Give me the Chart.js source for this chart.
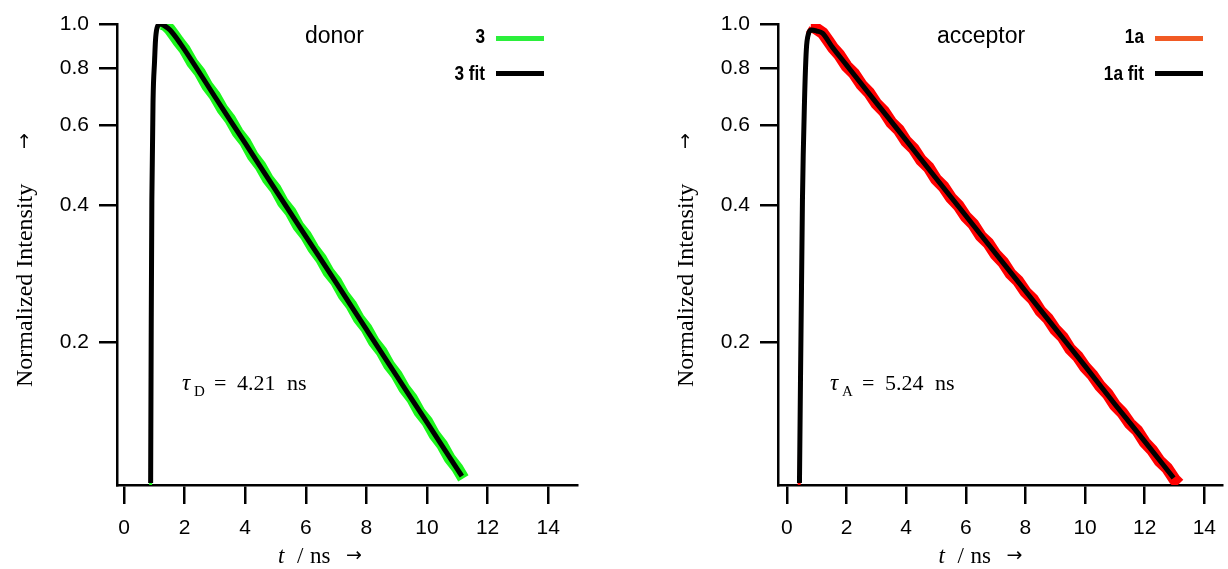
<!DOCTYPE html>
<html>
<head>
<meta charset="utf-8">
<script src="https://cdn.jsdelivr.net/npm/chart.js@4.4.1/dist/chart.umd.min.js"></script>
<style>
  body { margin: 0; background: #fff; width: 1228px; height: 569px; overflow: hidden; position: relative; }
  .panel { position: absolute; top: 0; height: 569px; }
</style>
</head>
<body>
<div class="panel" style="left:0;width:614px"><canvas id="donorChart" width="614" height="569"></canvas></div>
<div class="panel" style="left:661px;width:567px"><canvas id="acceptorChart" width="567" height="569"></canvas></div>
<script>
// axes
const xTicks = [0, 2, 4, 6, 8, 10, 12, 14];
const yTicks = [0.2, 0.4, 0.6, 0.8, 1.0];
const yTickLabels = ['0.2', '0.4', '0.6', '0.8', '1.0'];

// donor (3) - measured decay
const donorRawT = [0.86, 0.88, 0.90, 0.93, 0.96, 1.00, 1.05, 1.10, 1.20, 1.30, 1.40, 1.50, 1.65, 1.80,
  2.00, 2.25, 2.50, 2.75, 3.00, 3.25, 3.50, 3.75, 4.00, 4.25, 4.50, 4.75, 5.00, 5.25, 5.50, 5.75,
  6.00, 6.25, 6.50, 6.75, 7.00, 7.25, 7.50, 7.75, 8.00, 8.25, 8.50, 8.75, 9.00, 9.25, 9.50, 9.75,
  10.00, 10.25, 10.50, 10.75, 11.00, 11.20];
const donorRawI = [0.097, 0.15, 0.30, 0.50, 0.70, 0.84, 0.93, 0.975, 1.0, 1.0, 0.99, 0.975, 0.945, 0.915,
  0.880, 0.822, 0.783, 0.731, 0.695, 0.650, 0.618, 0.578, 0.550, 0.513, 0.488, 0.456, 0.434, 0.405, 0.386, 0.360,
  0.343, 0.321, 0.305, 0.285, 0.2715, 0.2535, 0.2412, 0.2252, 0.2143, 0.2002, 0.1905, 0.1779, 0.1693, 0.1581, 0.1505, 0.1404,
  0.1338, 0.1249, 0.1189, 0.1110, 0.1056, 0.1003];
// donor (3) - fit
const donorFitT = [0.88, 0.90, 0.92, 0.96, 1.01, 1.04, 1.09, 1.19, 1.35, 1.52, 1.85, 3, 4, 5, 6, 7, 8, 9, 10, 11, 11.15];
const donorFitI = [0.098, 0.22, 0.41, 0.68, 0.83, 0.92, 0.98, 1.0, 0.99, 0.97, 0.908, 0.692, 0.547, 0.432, 0.3415, 0.270, 0.2132, 0.1684, 0.1331, 0.1051, 0.1015];

// acceptor (1a) - measured decay
const acceptorRawT = [0.41, 0.44, 0.48, 0.52, 0.56, 0.60, 0.65, 0.70, 0.80, 0.90, 1.00, 1.20, 1.40, 1.55,
  1.75, 2.00, 2.25, 2.50, 2.75, 3.00, 3.25, 3.50, 3.75, 4.00, 4.25, 4.50, 4.75, 5.00, 5.25, 5.50, 5.75,
  6.00, 6.25, 6.50, 6.75, 7.00, 7.25, 7.50, 7.75, 8.00, 8.25, 8.50, 8.75, 9.00, 9.25, 9.50, 9.75,
  10.00, 10.25, 10.50, 10.75, 11.00, 11.25, 11.50, 11.75, 12.00, 12.25, 12.50, 12.75, 13.00, 13.15];
const acceptorRawI = [0.097, 0.15, 0.26, 0.41, 0.57, 0.72, 0.88, 0.96, 0.985, 0.985, 0.975, 0.955, 0.915, 0.885,
  0.856, 0.808, 0.778, 0.735, 0.707, 0.668, 0.643, 0.607, 0.585, 0.552, 0.532, 0.502, 0.484, 0.456, 0.439, 0.415, 0.399,
  0.377, 0.363, 0.342, 0.330, 0.3115, 0.2995, 0.2826, 0.2725, 0.2577, 0.2483, 0.2340, 0.2253, 0.2130, 0.2050, 0.1930, 0.1860,
  0.1761, 0.1690, 0.1602, 0.1539, 0.1453, 0.1397, 0.1324, 0.1278, 0.1204, 0.1157, 0.1095, 0.1056, 0.0998, 0.0975];
// acceptor (1a) - fit
const acceptorFitT = [0.42, 0.52, 0.59, 0.65, 0.72, 0.82, 1.00, 1.19, 1.52, 2, 3, 4, 5, 6, 7, 8, 9, 10, 11, 12, 12.97];
const acceptorFitI = [0.098, 0.41, 0.68, 0.877, 0.95, 0.97, 0.965, 0.955, 0.89, 0.812, 0.671, 0.555, 0.458, 0.379, 0.313, 0.259, 0.214, 0.177, 0.146, 0.121, 0.1005];

const SANS = '"Liberation Sans", Arial, Helvetica, sans-serif';
const SERIF = '"Liberation Serif", "Times New Roman", serif';
const ARROW = '"DejaVu Sans", sans-serif';

// sample name, legend, lifetime and axis titles drawn on top of the chart
const panelText = {
  id: 'panelText',
  afterDraw(chart, args, o) {
    const ctx = chart.ctx;
    const area = chart.chartArea;
    ctx.save();
    ctx.fillStyle = '#000';
    ctx.textBaseline = 'alphabetic';
    ctx.textAlign = 'left';

    ctx.font = '23px ' + SANS;
    ctx.fillText(o.name, o.nameX, 43);

    chart.data.datasets.forEach((ds, i) => {
      const y = 38.5 + i * 35;
      ctx.save();
      ctx.translate(o.legendX, y + 4.5 + (i ? 2 : 0));
      ctx.scale(0.82, 1);
      ctx.font = 'bold 21px ' + SANS;
      ctx.textAlign = 'right';
      ctx.fillText(ds.label, 0, 0);
      ctx.restore();
      ctx.strokeStyle = ds.legendColor;
      ctx.lineWidth = 5;
      ctx.beginPath();
      ctx.moveTo(o.legendX + 11, y);
      ctx.lineTo(o.legendX + 59, y);
      ctx.stroke();
    });

    // lifetime
    ctx.font = 'italic 23px ' + SERIF;
    ctx.fillText('τ', o.tauX, 390);
    ctx.font = '15px ' + SERIF;
    ctx.fillText(o.tauSub, o.tauX + 12, 396);
    ctx.font = '22px ' + SERIF;
    ctx.fillText('=', o.tauX + 32, 390);
    ctx.fillText(o.tauValue, o.tauX + 55, 390);
    ctx.fillText('ns', o.tauX + 105, 390);

    // x title
    const tx = chart.scales.x.getPixelForValue(5.08);
    ctx.font = 'italic 23px ' + SERIF;
    ctx.fillText('t', tx, 563);
    ctx.font = '23px ' + SERIF;
    ctx.fillText('/', tx + 19, 563);
    ctx.fillText('ns', tx + 32, 563);
    ctx.font = '19px ' + ARROW;
    ctx.fillText('→', tx + 68, 561);

    // y title
    ctx.save();
    ctx.translate(area.left - 85, 387);
    ctx.rotate(-Math.PI / 2);
    ctx.font = '24px ' + SERIF;
    ctx.fillText('Normalized Intensity', 0, 0);
    ctx.font = '19px ' + ARROW;
    ctx.fillText('→', 238, -2);
    ctx.restore();

    ctx.restore();
  }
};

function toPoints(ts, vs) {
  return ts.map((t, i) => ({ x: t, y: vs[i] }));
}

function buildChart(id, p) {
  const axisLine = { color: '#000', width: 2.5 };
  const axisGrid = { drawOnChartArea: false, color: '#000', lineWidth: 2.5 };
  return new Chart(document.getElementById(id), {
    type: 'line',
    data: {
      datasets: [
        {
          label: p.rawLabel,
          data: toPoints(p.rawT, p.rawI),
          borderColor: p.rawColor,
          legendColor: p.legendColor,
          borderWidth: 12,
          pointRadius: 0,
          tension: 0,
          order: 1,
          segment: { borderWidth: c => (p.rawT[c.p0DataIndex] < p.peakT ? 3 : 12) }
        },
        {
          label: p.fitLabel,
          data: toPoints(p.fitT, p.fitI),
          borderColor: '#000',
          legendColor: '#000',
          borderWidth: 5,
          pointRadius: 0,
          order: 0,
          cubicInterpolationMode: 'monotone'
        }
      ]
    },
    options: {
      responsive: false,
      animation: false,
      devicePixelRatio: 1,
      layout: { padding: { top: 24, right: p.padRight, bottom: 0, left: 0 } },
      plugins: {
        legend: { display: false },
        tooltip: { enabled: false },
        panelText: { name: p.name, nameX: p.nameX, legendX: p.legendX, tauX: p.tauX, tauSub: p.tauSub, tauValue: p.tauValue }
      },
      scales: {
        x: {
          type: 'linear',
          min: p.xMin,
          max: p.xMax,
          afterBuildTicks: s => { s.ticks = xTicks.map(v => ({ value: v })); },
          afterFit: s => { s.height = 84; },
          ticks: { autoSkip: false, maxRotation: 0, padding: 12, color: '#000', font: { family: SANS, size: 21 }, callback: v => String(v) },
          grid: Object.assign({ tickLength: 19 }, axisGrid),
          border: axisLine
        },
        y: {
          type: 'logarithmic',
          min: 0.097,
          max: 1.0,
          afterBuildTicks: s => { s.ticks = yTicks.map(v => ({ value: v })); },
          afterFit: s => { s.width = 117; },
          ticks: { autoSkip: false, padding: 10, color: '#000', font: { family: SANS, size: 21 }, callback: (v, i) => yTickLabels[i] },
          grid: Object.assign({ tickLength: 18 }, axisGrid),
          border: axisLine
        }
      }
    },
    plugins: [panelText]
  });
}

buildChart('donorChart', {
  rawT: donorRawT, rawI: donorRawI, fitT: donorFitT, fitI: donorFitI,
  rawLabel: '3', fitLabel: '3 fit', rawColor: '#1cf51c', legendColor: '#2bef3b', peakT: 1.2,
  xMin: -0.23, xMax: 14.95, padRight: 37,
  name: 'donor', nameX: 305, legendX: 485, tauX: 182, tauSub: 'D', tauValue: '4.21'
});

buildChart('acceptorChart', {
  rawT: acceptorRawT, rawI: acceptorRawI, fitT: acceptorFitT, fitI: acceptorFitI,
  rawLabel: '1a', fitLabel: '1a fit', rawColor: '#ff0000', legendColor: '#f15a24', peakT: 0.8,
  xMin: -0.3, xMax: 14.6, padRight: 0,
  name: 'acceptor', nameX: 276, legendX: 483, tauX: 169, tauSub: 'A', tauValue: '5.24'
});
</script>
</body>
</html>
